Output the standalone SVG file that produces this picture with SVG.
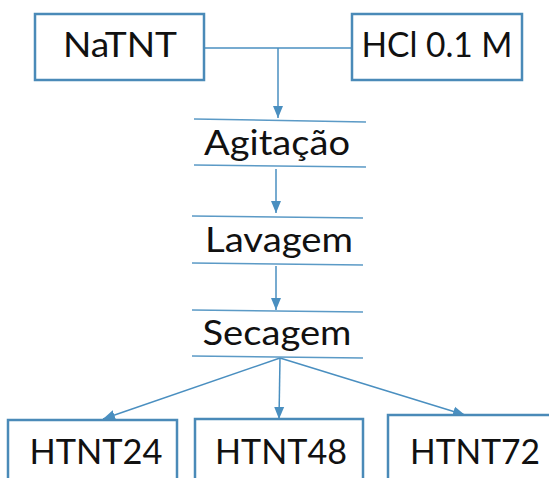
<svg xmlns="http://www.w3.org/2000/svg" width="549" height="478" viewBox="0 0 549 478">
<defs>
<marker id="arr" markerUnits="userSpaceOnUse" markerWidth="12" markerHeight="12" viewBox="0 0 12 12" refX="12" refY="6" orient="auto">
<path d="M0,1 L12,6 L0,11 Z" fill="#4a8fc0"/>
</marker>
<style>
.box{fill:#fff;stroke:#4a8ab8;stroke-width:2.5}
.ln{stroke:#5b9ac6;stroke-width:1.5;fill:none}
.cn{stroke:#4a8fc0;stroke-width:1.5;fill:none}
.t{font-family:Lato,"Open Sans","Liberation Sans",sans-serif;font-size:34px;fill:#111;text-anchor:middle}
</style>
</defs>
<rect width="549" height="478" fill="#fff"/>
<g id="connectors">
<path class="cn" d="M204,48 H352"/>
<path class="cn" d="M278,48 V118" marker-end="url(#arr)"/>
<path class="cn" d="M276,169 V213" marker-end="url(#arr)"/>
<path class="cn" d="M276,266 V310" marker-end="url(#arr)"/>
<path class="cn" d="M280,358 L103,419" marker-end="url(#arr)"/>
<path class="cn" d="M280,358 L279,419" marker-end="url(#arr)"/>
<path class="cn" d="M280,358 L465,415" marker-end="url(#arr)"/>
</g>
<g id="NaTNT">
<rect class="box" x="35" y="14" width="169" height="66"/>
<text class="t" x="120" y="57" textLength="114" lengthAdjust="spacingAndGlyphs">NaTNT</text>
</g>
<g id="HCl">
<rect class="box" x="352" y="14" width="170" height="66"/>
<text class="t" x="437" y="57" textLength="151" lengthAdjust="spacingAndGlyphs">HCl 0.1 M</text>
</g>
<g id="Agitacao">
<path class="ln" d="M194,119 L366,122 M194,165 L366,167"/>
<text class="t" x="277" y="155" textLength="146" lengthAdjust="spacingAndGlyphs">Agitação</text>
</g>
<g id="Lavagem">
<path class="ln" d="M192,216 L363,218 M192,263 L363,265"/>
<text class="t" x="279" y="252" textLength="148" lengthAdjust="spacingAndGlyphs">Lavagem</text>
</g>
<g id="Secagem">
<path class="ln" d="M192,310 L363,312 M192,356 L363,358"/>
<text class="t" x="277" y="345" textLength="149" lengthAdjust="spacingAndGlyphs">Secagem</text>
</g>
<g id="HTNT24">
<rect class="box" x="8" y="420" width="169" height="70"/>
<text class="t" x="96" y="464" textLength="133" lengthAdjust="spacingAndGlyphs">HTNT24</text>
</g>
<g id="HTNT48">
<rect class="box" x="195" y="419" width="168" height="70"/>
<text class="t" x="281" y="464" textLength="132" lengthAdjust="spacingAndGlyphs">HTNT48</text>
</g>
<g id="HTNT72">
<rect class="box" x="388" y="415" width="180" height="75"/>
<text class="t" x="475" y="464" textLength="130" lengthAdjust="spacingAndGlyphs">HTNT72</text>
</g>
</svg>
